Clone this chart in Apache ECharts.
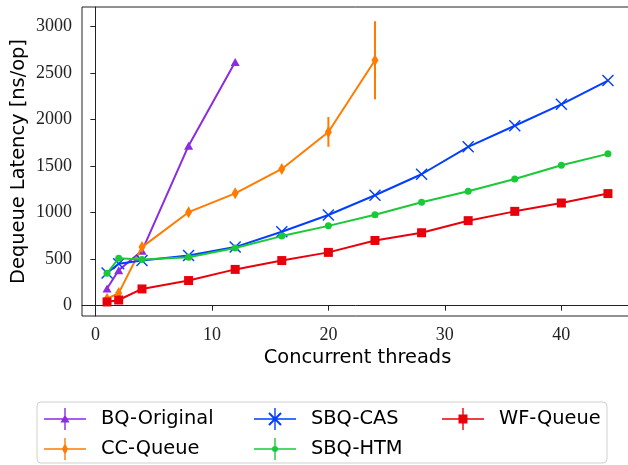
<!DOCTYPE html>
<html>
<head>
<meta charset="utf-8">
<script src="https://cdn.jsdelivr.net/npm/echarts@6/dist/echarts.min.js"></script>
<style>
  html, body { margin: 0; padding: 0; background: #fff; }
  #chart { width: 628px; height: 465px; }
</style>
</head>
<body>
<div id="chart"></div>
<script>
// thread counts
const bqThreads = [1, 2, 4, 8, 12];
const ccThreads = [1, 2, 4, 8, 12, 16, 20, 24];
const sbqThreads = [1, 2, 4, 8, 12, 16, 20, 24, 28, 32, 36, 40, 44];

// latency values [ns/op]
const bqOriginal = [185, 380, 590, 1720, 2620];
const ccQueue = [75, 135, 630, 1005, 1208, 1470, 1868, 2638];
const ccQueueErr = [10, 10, 15, 20, 25, 30, 160, 420];
const sbqCas = [352, 450, 485, 540, 630, 795, 975, 1187, 1413, 1708, 1934, 2165, 2420];
const sbqHtm = [348, 510, 496, 521, 620, 748, 858, 978, 1111, 1230, 1362, 1510, 1632];
const wfQueue = [40, 61, 180, 270, 390, 485, 573, 701, 784, 914, 1014, 1104, 1205];

const xTicks = [0, 10, 20, 30, 40];
const yTicks = [0, 500, 1000, 1500, 2000, 2500, 3000];

const colors = {
  bq: '#8b2be2',
  cc: '#ff7c00',
  cas: '#023eff',
  htm: '#1ac938',
  wf: '#e8000b',
};

// legend handles: line + error bar + marker
const handleBase = 'M0,10.3 L42,10.3 L42,11.7 L0,11.7 Z M20.3,0 L21.7,0 L21.7,22 L20.3,22 Z ';
const icons = {
  bq: 'path://' + handleBase + 'M21,6.5 L25.5,14.5 L16.5,14.5 Z',
  cc: 'path://' + handleBase + 'M21,5 L24,11 L21,17 L18,11 Z',
  cas: 'path://' + handleBase + 'M15.7,4.3 L27.7,16.3 L26.3,17.7 L14.3,5.7 Z M26.3,4.3 L27.7,5.7 L15.7,17.7 L14.3,16.3 Z',
  htm: 'path://' + handleBase + 'M21,8 A3,3 0 1 1 21,14 A3,3 0 1 1 21,8 Z',
  wf: 'path://' + handleBase + 'M16.5,6.5 L25.5,6.5 L25.5,15.5 L16.5,15.5 Z',
};

const xMarker = 'path://M0,1 L1,0 L12,11 L11,12 Z M11,0 L12,1 L1,12 L0,11 Z';
const thinDiamond = 'path://M3,0 L6,8 L3,16 L0,8 Z';

const pairs = (xs, ys) => xs.map((x, i) => [x, ys[i]]);

const lineSeries = (name, xs, ys, color, symbol, symbolSize, z) => ({
  name,
  type: 'line',
  data: pairs(xs, ys),
  symbol,
  symbolSize,
  showAllSymbol: true,
  lineStyle: { color, width: 2 },
  itemStyle: { color, borderWidth: 0 },
  z,
  animation: false,
});

const errorSeries = (name, xs, ys, errs, color, z) => ({
  name,
  type: 'custom',
  data: xs.map((x, i) => [x, ys[i] - errs[i], ys[i] + errs[i]]),
  itemStyle: { color },
  renderItem: (params, api) => {
    const lo = api.coord([api.value(0), api.value(1)]);
    const hi = api.coord([api.value(0), api.value(2)]);
    return {
      type: 'line',
      shape: { x1: lo[0], y1: lo[1], x2: hi[0], y2: hi[1] },
      style: { stroke: color, lineWidth: 2 },
    };
  },
  z,
  silent: true,
  animation: false,
});

const legendText = {
  fontFamily: 'DejaVu Sans',
  fontSize: 19.4,
  color: '#000',
  padding: [0, 0, 0, 10],
};

const legendCol = (left, items) => ({
  orient: 'vertical',
  left,
  top: 408,
  height: 60,
  padding: 0,
  itemWidth: 42,
  itemHeight: 22,
  itemGap: 8,
  selectedMode: false,
  textStyle: legendText,
  data: items,
});

const chart = echarts.init(document.getElementById('chart'));

chart.setOption({
  animation: false,
  grid: {
    left: 82,
    top: 7,
    width: 551,
    height: 309,
    outerBoundsMode: 'none',
    containLabel: false,
    show: true,
    borderColor: '#222',
    borderWidth: 1,
  },
  xAxis: {
    type: 'value',
    min: -1.15,
    max: 46.15,
    name: 'Concurrent threads',
    nameLocation: 'middle',
    nameGap: 29,
    nameTextStyle: { fontFamily: 'DejaVu Sans', fontSize: 19.4, color: '#000' },
    axisLine: { show: true, lineStyle: { color: '#222', width: 1 } },
    axisTick: { show: true, length: 5, customValues: xTicks, lineStyle: { color: '#222' } },
    axisLabel: {
      customValues: xTicks,
      margin: 10,
      fontFamily: 'Liberation Serif',
      fontSize: 18,
      color: '#222',
      formatter: (v) => String(v),
    },
    splitLine: { show: false },
  },
  yAxis: {
    type: 'value',
    min: -111,
    max: 3211,
    name: 'Dequeue Latency [ns/op]',
    nameLocation: 'middle',
    nameGap: 54,
    nameMoveOverlap: false,
    nameTextStyle: { fontFamily: 'DejaVu Sans', fontSize: 19.4, color: '#000' },
    axisLine: { show: true, lineStyle: { color: '#222', width: 1 } },
    axisTick: { show: true, length: 5, customValues: yTicks, lineStyle: { color: '#222' } },
    axisLabel: {
      customValues: yTicks,
      margin: 10,
      fontFamily: 'Liberation Serif',
      fontSize: 18,
      color: '#222',
      formatter: (v) => String(v),
    },
    splitLine: { show: false },
  },
  legend: [
    legendCol(44, [
      { name: 'BQ-Original', icon: icons.bq },
      { name: 'CC-Queue', icon: icons.cc },
    ]),
    legendCol(254, [
      { name: 'SBQ-CAS', icon: icons.cas },
      { name: 'SBQ-HTM', icon: icons.htm },
    ]),
    legendCol(442, [
      { name: 'WF-Queue', icon: icons.wf },
    ]),
  ],
  graphic: [
    {
      type: 'rect',
      shape: { x: 37, y: 402, width: 570, height: 61, r: 4 },
      style: { fill: 'none', stroke: '#d0d0d0', lineWidth: 1 },
      silent: true,
      z: -1,
    },
  ],
  series: [
    lineSeries('BQ-Original', bqThreads, bqOriginal, colors.bq, 'triangle', [9, 8], 2),
    errorSeries('CC-Queue', ccThreads, ccQueue, ccQueueErr, colors.cc, 3),
    lineSeries('CC-Queue', ccThreads, ccQueue, colors.cc, thinDiamond, [7, 12], 3),
    lineSeries('SBQ-CAS', sbqThreads, sbqCas, colors.cas, xMarker, 12, 4),
    lineSeries('SBQ-HTM', sbqThreads, sbqHtm, colors.htm, 'circle', 7, 5),
    lineSeries('WF-Queue', sbqThreads, wfQueue, colors.wf, 'rect', 9, 6),
  ],
});
</script>
</body>
</html>
